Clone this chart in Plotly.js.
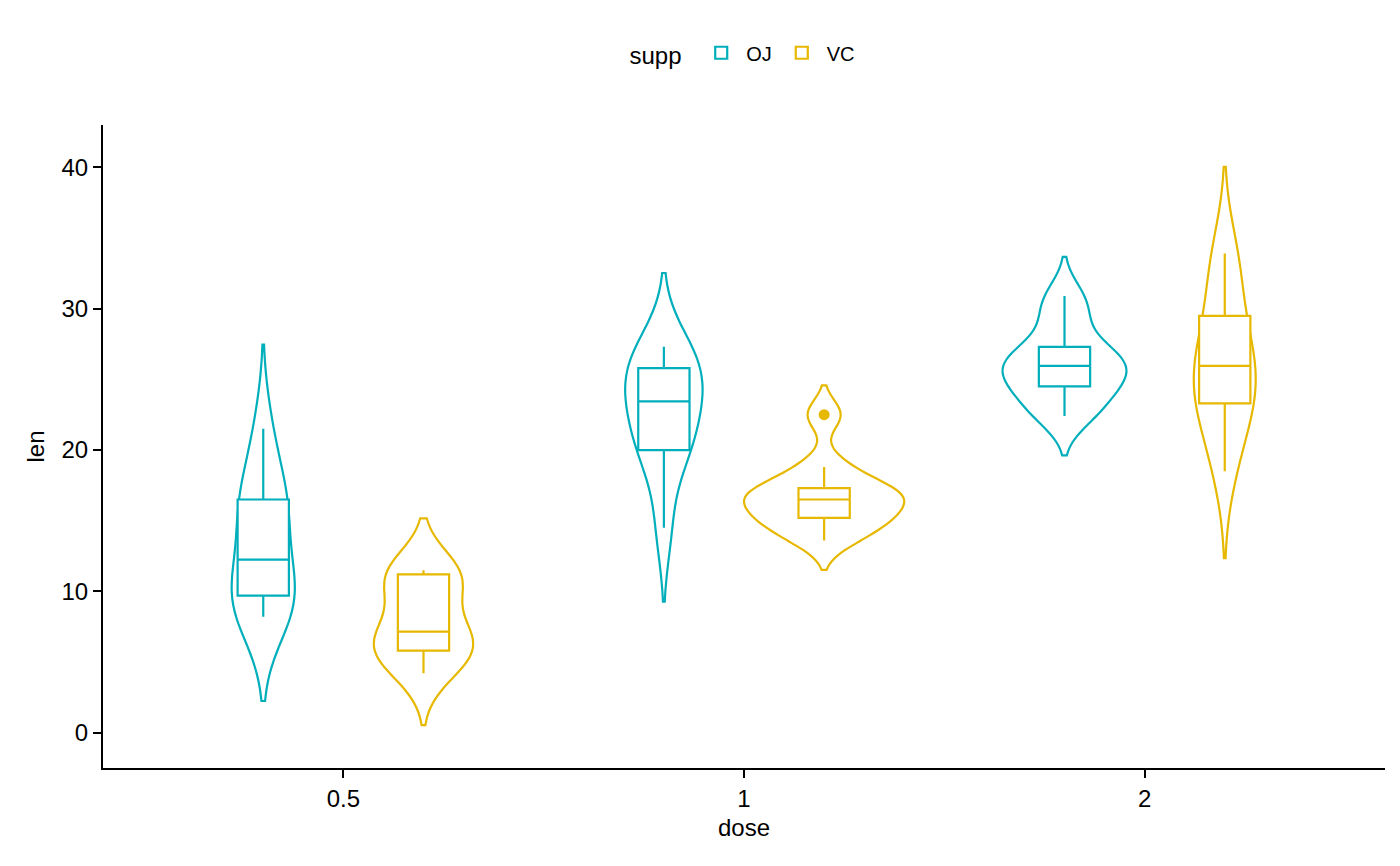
<!DOCTYPE html>
<html>
<head>
<meta charset="utf-8">
<script src="https://cdn.plot.ly/plotly-3.0.1.min.js"></script>
<style>html,body{margin:0;padding:0;background:#fff}#plot{width:1400px;height:866px}</style>
</head>
<body>
<div id="plot"></div>
<script>
// ToothGrowth: len by dose and supp
const doses = ['0.5', '1', '2'];
const ojLen = {
    '0.5': [15.2, 21.5, 17.6, 9.7, 14.5, 10, 8.2, 9.4, 16.5, 9.7],
    '1': [19.7, 23.3, 23.6, 26.4, 20, 25.2, 25.8, 21.2, 14.5, 27.3],
    '2': [25.5, 26.4, 22.4, 24.5, 24.8, 30.9, 26.4, 27.3, 29.4, 23]
};
const vcLen = {
    '0.5': [4.2, 11.5, 7.3, 5.8, 6.4, 10, 11.2, 11.2, 5.2, 7],
    '1': [16.5, 16.5, 15.2, 17.3, 22.5, 17.3, 13.6, 14.5, 18.8, 15.5],
    '2': [23.6, 18.5, 33.9, 25.5, 26.4, 32.5, 26.7, 21.5, 23.3, 29.5]
};

const makeTrace = (name, color, values) => {
    const x = [], y = [];
    doses.forEach(d => values[d].forEach(v => { x.push(d); y.push(v); }));
    return {
        type: 'violin',
        name: name,
        legendgroup: name,
        x: x,
        y: y,
        line: { color: color, width: 2.2 },
        fillcolor: 'rgba(255,255,255,0)',
        spanmode: 'soft',
        scalegroup: 'all',
        scalemode: 'count',
        points: 'outliers',
        marker: { color: color, size: 11 },
        box: { visible: true, width: 0.32, fillcolor: 'white', line: { color: color, width: 2.2 } },
        meanline: { visible: false },
        hoveron: 'violins'
    };
};

const traces = [
    makeTrace('OJ', '#00AFBB', ojLen),
    makeTrace('VC', '#E7B800', vcLen)
];

const layout = {
    font: { family: 'Liberation Sans, Arial, sans-serif', size: 24, color: '#000' },
    margin: { l: 103, r: 15, t: 125, b: 98 },
    violinmode: 'group',
    violingap: 0.2,
    violingroupgap: 0.0,
    plot_bgcolor: 'white',
    paper_bgcolor: 'white',
    showlegend: true,
    legend: {
        orientation: 'h',
        x: 0.5, xanchor: 'center',
        y: 1.11, yanchor: 'middle',
        title: { text: 'supp ', font: { size: 24 } },
        font: { size: 20 },
        itemwidth: 40
    },
    xaxis: {
        type: 'category',
        range: [-0.6, 2.6],
        title: { text: 'dose', font: { size: 24 }, standoff: 8 },
        tickfont: { size: 24 },
        showline: true, linecolor: '#000', linewidth: 2,
        ticks: 'outside', ticklen: 8, tickcolor: '#000', tickwidth: 2,
        showgrid: false, zeroline: false
    },
    yaxis: {
        title: { text: 'len', font: { size: 24 }, standoff: 10 },
        tickfont: { size: 24 },
        range: [-2.5, 43],
        tickvals: [0, 10, 20, 30, 40],
        showline: true, linecolor: '#000', linewidth: 2,
        ticks: 'outside', ticklen: 8, tickcolor: '#000', tickwidth: 2,
        showgrid: false, zeroline: false
    }
};

Plotly.newPlot('plot', traces, layout, { displayModeBar: false });
</script>
</body>
</html>
